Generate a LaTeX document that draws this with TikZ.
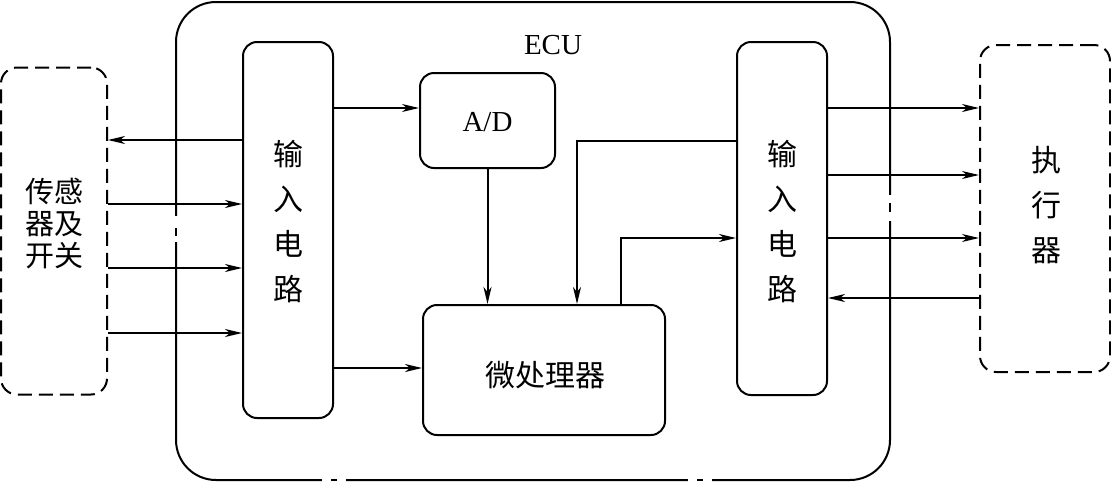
\documentclass[tikz,border=0pt]{standalone}
\usepackage{fontspec}
\setmainfont{Liberation Serif}
\newfontfamily\cjk{Noto Sans CJK SC}
\usetikzlibrary{arrows.meta,calc}
\begin{document}
\begin{tikzpicture}[x=1pt,y=-1pt,line width=2pt,
  box/.style={draw,rounded corners=14pt,inner sep=0pt},
  dbox/.style={draw,rounded corners=16pt,inner sep=0pt,dash pattern=on 14pt off 7pt},
  arr/.style={-{Stealth[length=17pt,width=8pt,inset=5pt]}},
  thinline/.style={line width=1.2pt},
  zh/.style={font=\cjk\fontsize{30}{45}\selectfont,align=center},
  lat/.style={font=\fontsize{29}{34}\selectfont}]
\useasboundingbox (0,0) rectangle (1111,483);
% ECU outer box
\node[draw,rounded corners=40pt,minimum width=714pt,minimum height=478pt,inner sep=0pt] (ecu) at (533,241) {};
\draw[white,line width=5pt] (176,216) -- (176,242);
\draw (176,228) -- (176,236);
\draw[white,line width=5pt] (890,195) -- (890,221);
\draw (890,203) -- (890,212);
\draw[white,line width=5pt] (322,480) -- (346,480);
\draw (331,480) -- (337,480);
\draw[white,line width=5pt] (688,480) -- (712,480);
\draw (697,480) -- (703,480);
\node[lat] (ecul) at (553,45) {ECU};
% boxes
\node[dbox,minimum width=106pt,minimum height=327pt] (sensor) at (54,231) {};
\node[zh,font=\cjk\fontsize{29}{32}\selectfont] (sensort) at (54,224) {传感\\器及\\开关};
\node[box,minimum width=90pt,minimum height=376pt] (inL) at (288,230) {};
\node[zh] (inLt) at (288,222) {输\\入\\电\\路};
\node[box,minimum width=135pt,minimum height=95pt] (ad) at (487.5,120.5) {};
\node[lat] (adt) at (487.5,122) {A/D};
\node[box,minimum width=242pt,minimum height=130pt] (mp) at (544,370) {};
\node[zh] (mpt) at (545,375) {微处理器};
\node[box,minimum width=90pt,minimum height=353pt] (inR) at (782,218.5) {};
\node[zh] (inRt) at (782,222) {输\\入\\电\\路};
\node[dbox,minimum width=130pt,minimum height=327pt] (act) at (1045,208.5) {};
\node[zh] (actt) at (1046,205) {执\\行\\器};
% connectors left
\draw[arr] (inL.west |- 0,140) -- (sensor.east |- 0,140);
\draw[arr] (sensor.east |- 0,204) -- (inL.west |- 0,204);
\draw[arr] (sensor.east |- 0,268) -- (inL.west |- 0,268);
\draw[arr] (sensor.east |- 0,333) -- (inL.west |- 0,333);
\draw[arr,thinline] (inL.east |- 0,108) -- (ad.west |- 0,108);
\draw[arr] (inL.east |- 0,368) -- (mp.west |- 0,368);
\draw[arr] (ad.south) -- (ad.south |- mp.north);
\draw[arr] (inR.west |- 0,141) -| ($(mp.north west)+(155,0)$);
\draw[arr] ($(mp.north west)+(199,0)$) |- (inR.west |- 0,238);
% connectors right
\draw[arr] (inR.east |- 0,108) -- (act.west |- 0,108);
\draw[arr,thinline] (inR.east |- 0,175) -- (act.west |- 0,175);
\draw[arr,thinline] (inR.east |- 0,238) -- (act.west |- 0,238);
\draw[arr] (act.west |- 0,298) -- (inR.east |- 0,298);
\end{tikzpicture}
\end{document}
